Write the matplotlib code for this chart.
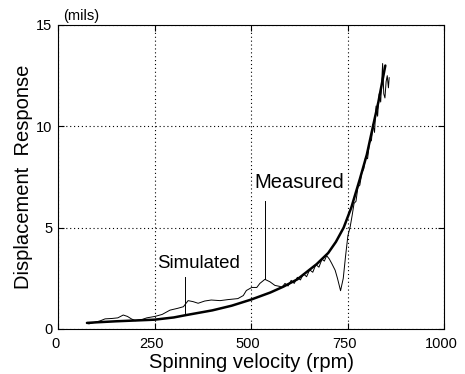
import matplotlib
matplotlib.use("Agg")
import matplotlib.pyplot as plt
from matplotlib.transforms import ScaledTranslation

# ---- data ----
sim_rpm = [75, 100, 150, 200, 250, 300, 330, 400, 450, 500, 550, 584, 620, 670,
           700, 720, 740, 760, 782, 800, 816, 830, 841, 848]
sim_disp = [0.30, 0.33, 0.38, 0.42, 0.46, 0.57, 0.68, 0.92, 1.15, 1.45, 1.80, 2.09,
            2.45, 3.20, 3.75, 4.30, 5.00, 6.00, 7.40, 8.60, 10.0, 11.2, 12.3, 13.0]

meas_rpm = [80, 95, 109, 122, 140, 155, 169, 180, 190, 200, 215, 230, 251, 270,
            290, 310, 325, 337, 350, 363, 380, 397, 420, 440, 466, 480, 488, 502,
            515, 523, 536, 549, 562, 575, 580, 588, 596, 604, 612, 620, 628, 636,
            644, 652, 660, 668, 676, 684, 690, 696, 703, 709, 718, 724, 732, 739,
            745, 751, 757, 762, 767, 772, 777, 782, 787, 792, 797, 802, 807, 812,
            816, 820, 824, 828, 832, 836, 841, 844, 847, 850, 853, 856, 858]
meas_disp = [0.25, 0.33, 0.40, 0.50, 0.52, 0.55, 0.69, 0.62, 0.50, 0.41, 0.45,
             0.55, 0.62, 0.72, 0.93, 1.02, 1.10, 1.40, 1.35, 1.27, 1.38, 1.43,
             1.40, 1.45, 1.50, 1.65, 1.90, 2.05, 2.05, 2.25, 2.45, 2.33, 2.15,
             2.10, 2.05, 2.25, 2.12, 2.40, 2.25, 2.55, 2.42, 2.72, 2.58, 2.92,
             2.80, 3.18, 3.05, 3.45, 3.35, 3.62, 3.45, 3.24, 2.90, 2.50, 1.89,
             2.50, 3.60, 4.60, 5.05, 5.60, 6.20, 6.30, 7.00, 7.10, 7.70, 7.90,
             8.50, 8.40, 9.20, 9.30, 10.1, 9.70, 11.0, 10.5, 11.6, 11.2, 13.1,
             11.6, 11.4, 12.2, 12.5, 11.9, 12.4]

sim_ptr_rpm = [329, 329]
sim_ptr_disp = [0.70, 2.58]
meas_ptr_rpm = [536, 536]
meas_ptr_disp = [2.45, 6.30]

x_ticks = [0, 250, 500, 750, 1000]
y_ticks = [0, 5, 10, 15]

plt.rcParams['font.family'] = ['Liberation Sans', 'DejaVu Sans']

fig = plt.figure(figsize=(4.65, 3.74), dpi=100)
ax = fig.add_axes([58/465, 45/374, 386/465, 304/374])

ax.plot(sim_rpm, sim_disp, color='black', lw=1.8, solid_capstyle='round')
ax.plot(meas_rpm, meas_disp, color='black', lw=0.7)
ax.plot(sim_ptr_rpm, sim_ptr_disp, color='black', lw=0.7)
ax.plot(meas_ptr_rpm, meas_ptr_disp, color='black', lw=0.7)

ax.text(256, 3.0, 'Simulated', fontsize=13.4, ha='left', va='baseline')
ax.text(510, 6.94, 'Measured', fontsize=14.5, ha='left', va='baseline')

ax.set_xlim(0, 1000)
ax.set_ylim(0, 15)
ax.set_xticks(x_ticks)
ax.set_yticks(y_ticks)
ax.tick_params(direction='in', length=4, width=0.8, top=True, right=True,
               labelsize=10.5)
ax.tick_params(axis='x', pad=6)
ax.tick_params(axis='y', pad=4)
shift = ScaledTranslation(-3/100, 0, fig.dpi_scale_trans)
for lbl in ax.get_xticklabels():
    lbl.set_transform(lbl.get_transform() + shift)
ax.grid(True, color='black', linestyle=(0, (1, 2.5)), linewidth=0.8)
for s in ax.spines.values():
    s.set_linewidth(0.8)

ax.set_xlabel('Spinning velocity (rpm)', fontsize=14.5, labelpad=1)
ax.set_ylabel('Displacement  Response', fontsize=14.5, labelpad=2)
ax.text(0.012, 1.005, '(mils)', transform=ax.transAxes, fontsize=10.5,
        ha='left', va='bottom')

fig.savefig('out.png', dpi=100)
